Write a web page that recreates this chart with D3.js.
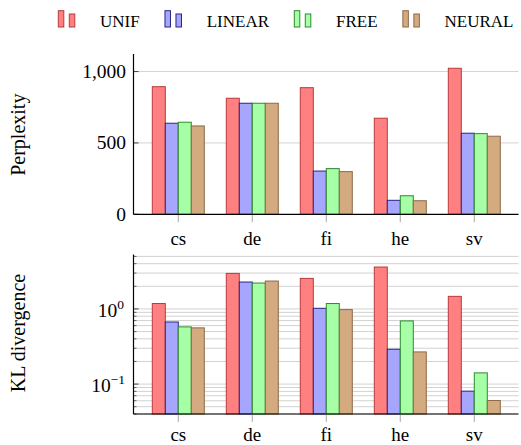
<!DOCTYPE html>
<html><head><meta charset="utf-8">
<script src="https://cdn.jsdelivr.net/npm/d3@7"></script>
<style>
html,body{margin:0;padding:0;background:#fff;}
</style></head>
<body><svg id="c" width="521" height="445"></svg>
<script>
const categories = ["cs","de","fi","he","sv"];
const methods = ["UNIF","LINEAR","FREE","NEURAL"];
const perplexityUnif   = [894, 813, 887, 673, 1023];
const perplexityLinear = [638, 778, 303, 98, 568];
const perplexityFree   = [645, 778, 320, 130, 565];
const perplexityNeural = [619, 778, 299, 95, 547];
const klUnif   = [1.18, 2.97, 2.55, 3.61, 1.47];
const klLinear = [0.67, 2.28, 1.02, 0.291, 0.0805];
const klFree   = [0.577, 2.21, 1.18, 0.693, 0.141];
const klNeural = [0.56, 2.35, 0.98, 0.268, 0.0605];
const perplexityTicks = [0, 500, 1000];
const klMajorTicks = [0.1, 1];
const klMinorTicks = [0.04,0.05,0.06,0.07,0.08,0.09,0.2,0.3,0.4,0.5,0.6,0.7,0.8,0.9,2,3,4,5];

const fills = ["#ff8080","#a6a6ff","#a6ffa6","#d4aa80"];
const strokes = ["#b83a3a","#26267f","#2f8a2f","#8c6a48"];
const FONT = '"Liberation Serif"';

const svg = d3.select("#c");
const axL = 133.5, axR = 518.5;
const x = d3.scaleBand().domain(categories).range([141.3, 511.3]).paddingInner(0).paddingOuter(0);
const sub = d3.scaleBand().domain(methods).range([-26, 26]);

function txt(g){ return g.append("text").style("font-family",FONT).attr("fill","#000"); }

function panel(opts){
  const g = svg.append("g");
  const y = opts.y;
  const [yb, yt] = y.range();
  (opts.grid).forEach(v=>{
    g.append("line").attr("x1",axL).attr("x2",axR).attr("y1",y(v)).attr("y2",y(v))
      .attr("stroke","#d2d2d2").attr("stroke-width",1);
  });
  const series = opts.series;
  methods.forEach((m,mi)=>{
    g.selectAll(null).data(categories).enter().append("rect")
      .attr("x",c=>x(c)+x.bandwidth()/2+sub(m))
      .attr("width",sub.bandwidth())
      .attr("y",(c,i)=>y(series[mi][i]))
      .attr("height",(c,i)=>yb-y(series[mi][i]))
      .attr("fill",fills[mi]).attr("stroke",strokes[mi]).attr("stroke-width",1);
  });
  categories.forEach(c=>{
    const cx = x(c)+x.bandwidth()/2;
    g.append("line").attr("x1",cx).attr("x2",cx).attr("y1",yb).attr("y2",yb+8)
      .attr("stroke","#b5b5b5").attr("stroke-width",1.2);
    txt(g).attr("x",cx).attr("y",yb+opts.xLabelOff).attr("text-anchor","middle")
      .attr("font-size",19).text(c);
  });
  opts.major.forEach(v=>{
    g.append("line").attr("x1",axL).attr("x2",axL+5).attr("y1",y(v)).attr("y2",y(v)).attr("stroke","#333").attr("stroke-width",0.9);
  });
  (opts.minor||[]).forEach(v=>{
    g.append("line").attr("x1",axL).attr("x2",axL+3).attr("y1",y(v)).attr("y2",y(v)).attr("stroke","#333").attr("stroke-width",0.7);
  });
  opts.labels(g,y);
  g.append("line").attr("x1",axL).attr("x2",axL).attr("y1",yb).attr("y2",yt).attr("stroke","#000").attr("stroke-width",1.2);
  g.append("line").attr("x1",axL).attr("x2",axR).attr("y1",yb).attr("y2",yb).attr("stroke","#000").attr("stroke-width",1.2);
  txt(g).attr("transform",`translate(25,${opts.titleY}) rotate(-90)`).attr("text-anchor","middle")
    .attr("font-size",20).text(opts.title);
}

const yTop = d3.scaleLinear().domain([0,1123]).range([214.3,54]);
panel({
  y:yTop, grid:[500,1000], major:perplexityTicks,
  series:[perplexityUnif,perplexityLinear,perplexityFree,perplexityNeural],
  xLabelOff:31, title:"Perplexity", titleY:134.7,
  labels:(g,y)=>{
    const f = d3.format(",");
    perplexityTicks.forEach(v=>{
      txt(g).attr("x",126).attr("y",y(v)+6.5).attr("text-anchor","end").attr("font-size",19.5).text(f(v));
    });
  }
});

const yBot = d3.scaleLog().domain([0.04,5.3]).range([414,254.5]);
panel({
  y:yBot, grid:klMinorTicks.concat(klMajorTicks), major:klMajorTicks, minor:klMinorTicks,
  series:[klUnif,klLinear,klFree,klNeural],
  xLabelOff:27, title:"KL divergence", titleY:333,
  labels:(g,y)=>{
    klMajorTicks.forEach(v=>{
      const e = Math.round(Math.log10(v));
      const t = txt(g).attr("y",y(v)+8).attr("text-anchor","end").attr("x",e<0?125:124).attr("font-size",19.5);
      t.append("tspan").text("10");
      t.append("tspan").attr("dy",-8).attr("font-size",13.5).text(e<0?"\u22121":String(e));
    });
  }
});

const lg = svg.append("g");
let lx = 58.3;
methods.forEach((m,i)=>{
  lg.append("rect").attr("x",lx).attr("y",10.7).attr("width",5.5).attr("height",16.3)
    .attr("fill",fills[i]).attr("stroke",strokes[i]).attr("stroke-width",1);
  lg.append("rect").attr("x",lx+11).attr("y",14).attr("width",5.5).attr("height",13)
    .attr("fill",fills[i]).attr("stroke",strokes[i]).attr("stroke-width",1);
  const t = txt(lg).attr("x",lx+41.7).attr("y",27).attr("font-size",17).text(m);
  lx = lx + 41.7 + t.node().getComputedTextLength() + 25.3;
});
</script></body></html>
